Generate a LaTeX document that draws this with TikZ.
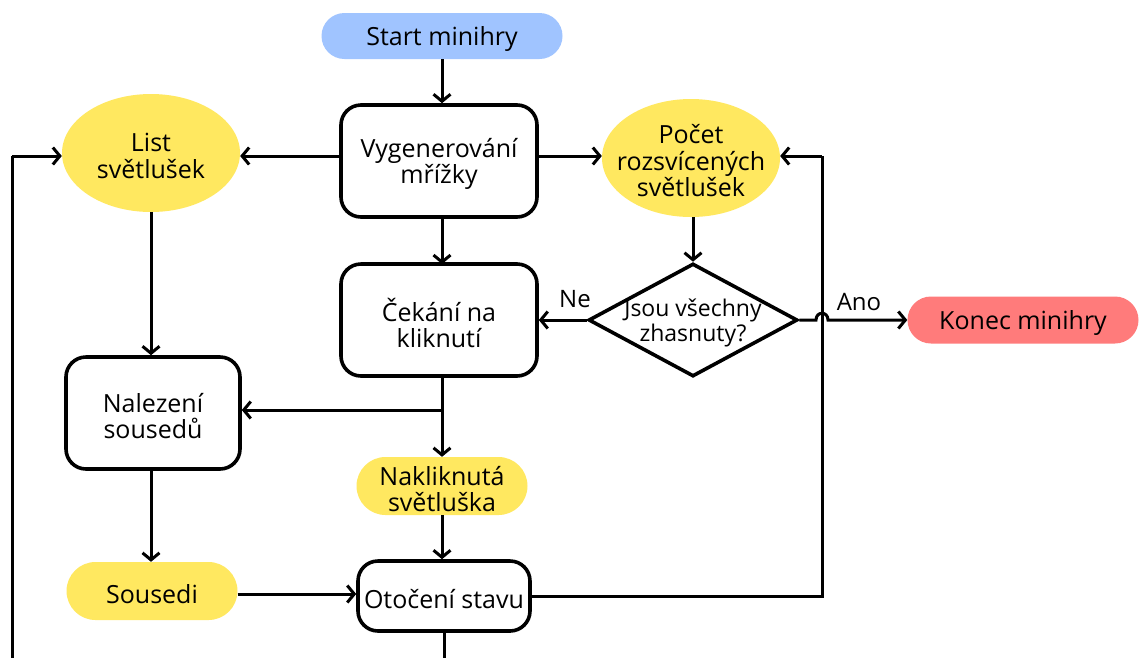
\documentclass[tikz,border=0pt]{standalone}
\usepackage{fontspec}
\setmainfont{Open Sans}
\usetikzlibrary{shapes.geometric,shapes.misc,arrows.meta}
\definecolor{startblue}{HTML}{A0C4FF}
\definecolor{dataYellow}{HTML}{FFE860}
\definecolor{endRed}{HTML}{FF7B7B}
\tikzset{
  txt/.style={font=\fontsize{25}{26.5}\selectfont, align=center, text=black, yshift=-3pt},
  procbox/.style={draw=black, line width=3.6pt, fill=white, rounded corners=20pt, minimum width=196pt, minimum height=112pt, inner sep=0pt},
  pill/.style={rounded rectangle, inner sep=0pt},
  dataell/.style={ellipse, fill=dataYellow, inner sep=0pt, minimum width=178pt, minimum height=118pt},
  arr/.style={line width=3pt, -{Straight Barb[length=7pt,width=17pt,line width=3pt]}},
  ln/.style={line width=3pt},
  lbl/.style={font=\fontsize{24}{27}\selectfont}
}
\begin{document}
\begin{tikzpicture}[x=1pt,y=-1pt]
\clip (0,0) rectangle (1139,657);
\fill[white] (0,0) rectangle (1139,657);
% nodes
\node[pill, fill=startblue, minimum width=241pt, minimum height=46pt, label={[txt]center:Start minihry}] (start) at (442,36) {};
\node[procbox, label={[txt]center:Vygenerování\\mřížky}] (gen) at (439,161) {};
\node[dataell, label={[txt]center:List\\světlušek}] (list) at (151,153) {};
\node[dataell, label={[txt]center:Počet\\rozsvícených\\světlušek}] (pocet) at (691,158) {};
\node[procbox, label={[txt]center:Čekání na\\kliknutí}] (cek) at (439,320) {};
\node[diamond, draw=black, line width=3.6pt, fill=white, inner sep=0pt, minimum width=209pt, minimum height=113pt,
      label={[txt, font=\fontsize{23}{25}\selectfont]center:Jsou všechny\\zhasnuty?}] (dia) at (693,320) {};
\node[pill, fill=endRed, minimum width=231pt, minimum height=47pt, label={[txt]center:Konec minihry}] (konec) at (1023,320) {};
\node[procbox, minimum width=174pt, label={[txt]center:Nalezení\\sousedů}] (nal) at (153,413) {};
\node[pill, fill=dataYellow, minimum width=171pt, minimum height=58pt, label={[txt]center:Nakliknutá\\světluška}] (nak) at (442,486) {};
\node[pill, fill=dataYellow, minimum width=171pt, minimum height=58pt, label={[txt]center:Sousedi}] (sou) at (152,591) {};
\node[procbox, minimum width=172pt, minimum height=70pt, label={[txt]center:Otočení stavu}] (ot) at (444,596) {};
\node[lbl] (ne) at (575,299) {Ne};
\node[lbl] (ano) at (859,302) {Ano};
% coordinates
\coordinate (gl) at (gen.west |- 0,156);
\coordinate (gr) at (gen.east |- 0,156);
\coordinate (j1) at (442,410);
\coordinate (jr) at (822,596);
\coordinate (jt) at (822,156);
\coordinate (b1) at (444,690);
\coordinate (b2) at (12,690);
\coordinate (b3) at (12,156);
\coordinate (h1) at (816,320);
\coordinate (h2) at (828,320);
% connectors
\draw[arr] (start.south) -- (gen.north -| start.south);
\draw[arr] (gl) -- (list.east |- gl);
\draw[arr] (gr) -- (pocet.west |- gr);
\draw[arr] (442,217) -- (442,264);
\draw[arr] (pocet.south -| dia.north) -- (dia.north);
\draw[arr] (dia.west) -- (cek.east);
\draw[arr] (dia.east) -- (h1) .. controls (816,311) and (828,311) .. (h2) -- (konec.west);
\draw[arr] (list.south) -- (nal.north -| list.south);
\draw[arr] (442,376) -- (nak.north);
\draw[arr] (j1) -- (nal.east |- j1);
\draw[arr] (nal.south -| list.south) -- (sou.north -| list.south);
\draw[arr] (sou.east |- 0,594) -- (ot.west |- 0,594);
\draw[arr] (nak.south) -- (ot.north -| nak.south);
\draw[ln] (ot.east) -- (jr) -- (jt);
\draw[arr] (jt) -- (pocet.east |- jt);
\draw[ln] (ot.south) -- (b1) -- (b2) -- (b3);
\draw[arr] (b3) -- (list.west |- b3);
\end{tikzpicture}
\end{document}
